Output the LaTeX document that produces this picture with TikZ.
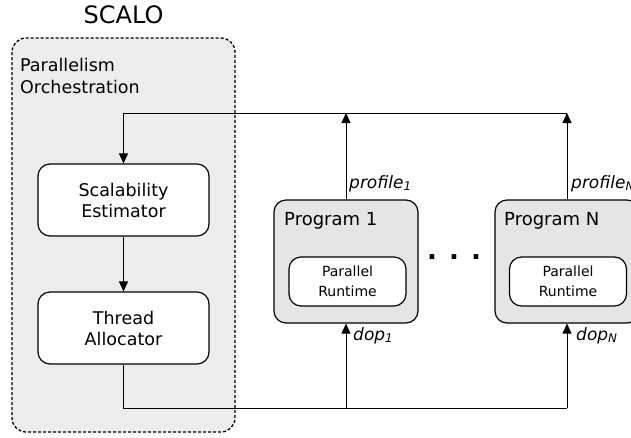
\documentclass[tikz,border=0pt]{standalone}
\usepackage{fontspec}
\setmainfont{DejaVu Sans}
\usetikzlibrary{arrows.meta,positioning}

\begin{document}
\begin{tikzpicture}[x=1pt, y=-1pt, >={Triangle[length=10pt,width=9pt]},
    block/.style={rectangle, draw, line width=1.2pt, rounded corners=12pt, fill=white, minimum width=171pt, minimum height=72pt, align=center, font=\fontsize{17.5}{21}\selectfont},
    prog/.style={rectangle, draw, line width=1.2pt, rounded corners=12pt, fill=gray!20, minimum width=144pt, minimum height=123pt},
    runtime/.style={rectangle, draw, line width=1.2pt, rounded corners=12pt, fill=white, minimum width=117pt, minimum height=49pt, align=center, font=\fontsize{14}{20}\selectfont},
    lbl/.style={anchor=base west, inner sep=0pt, font=\fontsize{17}{21}\selectfont\itshape}]

    \useasboundingbox (0,0) rectangle (631,437);
    \clip (0,0) rectangle (631,437);

    % orchestration region
    \draw[line width=1.3pt, dash pattern=on 3pt off 2pt, rounded corners=14pt, fill=gray!15] (12,38) rectangle (235,432);
    \node[anchor=base, inner sep=0pt, font=\fontsize{24}{28}\selectfont] (title) at (123.5,23) {SCALO};
    \node[anchor=north west, inner sep=0pt, align=left, font=\fontsize{17.5}{22}\selectfont] (orch) at (20,58) {Parallelism\\Orchestration};

    \node[block] (est) at (123.5,200) {Scalability\\Estimator};
    \node[block] (alloc) at (123.5,328) {Thread\\Allocator};

    % programs
    \node[prog] (prog1) at (346,261.5) {};
    \node[anchor=base west, inner sep=0pt, font=\fontsize{18}{22}\selectfont] (name1) at (284,225.5) {Program 1};
    \node[runtime] (rt1) at (347.5,281.5) {Parallel\\Runtime};

    \node[prog] (progN) at (567,261.5) {};
    \node[anchor=base west, inner sep=0pt, font=\fontsize{18}{22}\selectfont] (nameN) at (504,225.5) {Program N};
    \node[runtime] (rtN) at (568,281.5) {Parallel\\Runtime};

    \node[inner sep=0pt, font=\fontsize{26}{26}\selectfont\bfseries] (dots) at (454,257) {. . .};

    \coordinate (top) at (346,113);
    \coordinate (bot) at (346,408);

    % feedback
    \draw[->, line width=1pt] (prog1.north) -- (prog1.north |- top);
    \draw[->, line width=1pt] (progN.north) -- (progN.north |- top);
    \draw[->, line width=1pt] (progN.north |- top) -| (est.north);
    \draw[->, line width=1pt] (est) -- (alloc);

    % allocation
    \draw[line width=1pt] (alloc.south) |- (progN.south |- bot);
    \draw[->, line width=1pt] (prog1.south |- bot) -- (prog1.south);
    \draw[->, line width=1pt] (progN.south |- bot) -- (progN.south);

    \node[lbl] (prof1) at (349,188) {profile\textsubscript{1}};
    \node[lbl] (profN) at (571,188) {profile\textsubscript{N}};
    \node[lbl] (dop1) at (353,340) {dop\textsubscript{1}};
    \node[lbl] (dopN) at (576,340) {dop\textsubscript{N}};

\end{tikzpicture}
\end{document}
